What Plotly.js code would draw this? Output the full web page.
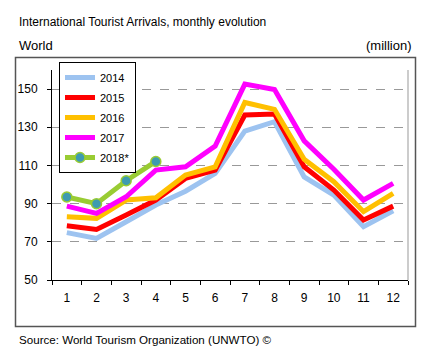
<!DOCTYPE html>
<html><head><meta charset="utf-8">
<script src="https://cdn.plot.ly/plotly-3.0.1.min.js"></script>
<style>html,body{margin:0;padding:0;background:#fff;}#chart{width:438px;height:360px;}</style>
</head><body><div id="chart"></div>
<script>
const months = [1,2,3,4,5,6,7,8,9,10,11,12];
const seriesNames = ["2014","2015","2016","2017","2018*"];
const v2014 = [74.8,71.8,80.5,89.3,96.5,105.8,128.0,132.9,104.0,94.5,77.9,86.3];
const v2015 = [78.4,76.5,84.0,91.9,103.2,107.6,136.4,136.9,109.3,97.1,81.4,88.7];
const v2016 = [83.1,82.3,91.9,93.1,105.0,109.3,143.0,139.4,113.2,101.5,85.8,95.4];
const v2017 = [88.7,84.9,93.6,107.6,109.3,120.2,152.6,149.8,122.9,108.0,91.9,100.6];
const v2018 = [93.5,90.0,102.0,112.1];
const yTicks = [50,70,90,110,130,150];

const font = "'Liberation Sans', Arial, sans-serif";
const colors = ["#9DC3F0","#FF0000","#FFC000","#FF00FF","#99CC33"];
const vals = [v2014,v2015,v2016,v2017,v2018];

const traces = vals.map((v,i)=>{
  const t = {
    x: months.slice(0,v.length), y: v, name: seriesNames[i], legendgroup:'g'+i,
    type:'scatter', mode: i===4 ? 'lines+markers' : 'lines',
    line:{color:colors[i], width:5}
  };
  if (i===4) t.marker = {size:10, color:'#3E9BB0', line:{color:'#99CC33', width:1.5}};
  return t;
});

const L=52, R=438-408, T=70, B=80;
const pw=438-L-R, ph=360-T-B;
const px = x => (x-L)/pw, py = y => (360-B-y)/ph;

const layout = {
  width:438, height:360,
  margin:{l:L, r:R, t:T, b:B, pad:0},
  paper_bgcolor:'#fff', plot_bgcolor:'#fff',
  showlegend:true,
  legend:{x:px(59), y:py(62), xanchor:'left', yanchor:'top',
    bgcolor:'#fff', bordercolor:'#000', borderwidth:1,
    font:{family:font, size:11, color:'#000'}, tracegroupgap:1},
  xaxis:{range:[0.5,12.5], tickvals:months, ticktext:months.map(String),
    ticks:'', showgrid:false, zeroline:false,
    showline:true, linecolor:'#000', linewidth:1,
    tickfont:{family:font, size:12, color:'#000'}, ticklabelstandoff:7,
    minor:{tick0:0.5, dtick:1, ticks:'outside', ticklen:4, tickcolor:'#000', showgrid:false},
    fixedrange:true},
  yaxis:{range:[50,160], tickvals:yTicks, ticks:'outside', ticklen:4, tickcolor:'#000',
    showline:true, linecolor:'#000', linewidth:1, zeroline:false,
    showgrid:true, gridcolor:'#999', griddash:'dash', gridwidth:1,
    tickfont:{family:font, size:12, color:'#000'}, ticklabelstandoff:7,
    fixedrange:true},
  shapes:[
    {type:'rect', xref:'paper', yref:'paper', x0:px(15.5), x1:px(415.5), y0:py(326.5), y1:py(57.5),
     line:{color:'#555', width:1.5}, fillcolor:'rgba(0,0,0,0)', layer:'below'},
    {type:'line', xref:'paper', yref:'paper', x0:1, x1:1, y0:0, y1:1, line:{color:'#999', width:1}}
  ],
  annotations:[
    {text:'International Tourist Arrivals, monthly evolution', xref:'paper', yref:'paper',
     x:px(17), y:py(22), xanchor:'left', yanchor:'middle', showarrow:false,
     font:{family:font, size:12, color:'#000'}},
    {text:'World', xref:'paper', yref:'paper', x:px(17), y:py(45), xanchor:'left', yanchor:'middle',
     showarrow:false, font:{family:font, size:13, color:'#000'}},
    {text:'(million)', xref:'paper', yref:'paper', x:px(414), y:py(45), xanchor:'right', yanchor:'middle',
     showarrow:false, font:{family:font, size:13, color:'#000'}},
    {text:'Source: World Tourism Organization (UNWTO) ©', xref:'paper', yref:'paper',
     x:px(17), y:py(339), xanchor:'left', yanchor:'middle', showarrow:false,
     font:{family:font, size:11.6, color:'#000'}}
  ]
};
Plotly.newPlot('chart', traces, layout, {displayModeBar:false, staticPlot:true});
</script></body></html>
